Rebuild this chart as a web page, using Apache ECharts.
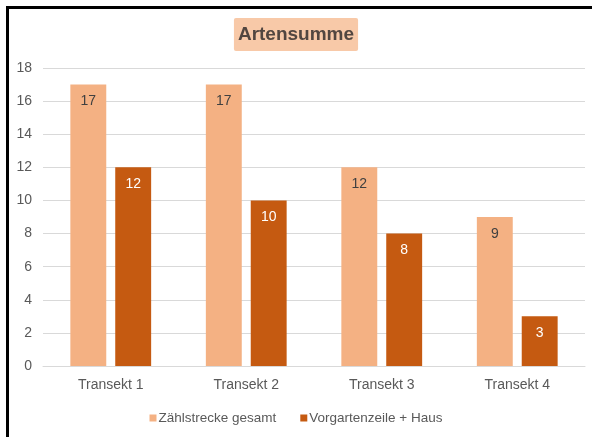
<!DOCTYPE html>
<html>
<head>
<meta charset="utf-8">
<script src="https://cdn.jsdelivr.net/npm/echarts@6/dist/echarts.min.js"></script>
<style>
  html, body { margin: 0; padding: 0; background: #fff; }
  #chart { position: absolute; left: 0; top: 0; width: 592px; height: 437px; }
  #frame { position: absolute; left: 6px; top: 6px; width: 600px; height: 440px;
           border-top: 3px solid #000; border-left: 3px solid #000; }
</style>
</head>
<body>
<div id="chart"></div>
<div id="frame"></div>
<script>
var categories = ["Transekt 1", "Transekt 2", "Transekt 3", "Transekt 4"];
var zaehlstrecke = [17, 17, 12, 9];
var vorgarten = [12, 10, 8, 3];
var yTicks = [0, 2, 4, 6, 8, 10, 12, 14, 16, 18];

var font = "'Liberation Sans Narrow', 'Liberation Sans', Arial, sans-serif";
var chart = echarts.init(document.getElementById("chart"));
chart.setOption({
  animation: false,
  textStyle: { fontFamily: font },
  title: {
    text: "Artensumme",
    left: "center",
    top: 18,
    backgroundColor: "#F8C9A8",
    padding: [7, 4, 7, 4],
    borderRadius: 2,
    textStyle: { fontFamily: font, fontSize: 19, fontWeight: "bold", color: "#524640" }
  },
  legend: {
    bottom: 7,
    left: "center",
    itemWidth: 7,
    itemHeight: 7,
    itemGap: 24,
    icon: "rect",
    textStyle: { fontFamily: font, fontSize: 13.5, color: "#595959", padding: [0, 0, 0, -3] },
    data: ["Zählstrecke gesamt", "Vorgartenzeile + Haus"]
  },
  grid: { left: 43, right: 7, top: 68, bottom: 71, containLabel: false },
  xAxis: {
    type: "category",
    data: categories,
    axisLine: { lineStyle: { color: "#D9D9D9" } },
    axisTick: { show: false },
    axisLabel: { fontFamily: font, fontSize: 14, color: "#595959", margin: 12 }
  },
  yAxis: {
    type: "value",
    min: yTicks[0],
    max: yTicks[yTicks.length - 1],
    interval: 2,
    axisLine: { show: false },
    axisTick: { show: false },
    axisLabel: { fontFamily: font, fontSize: 14, color: "#595959", margin: 11 },
    splitLine: { lineStyle: { color: "#D9D9D9" } }
  },
  series: [
    {
      name: "Zählstrecke gesamt",
      type: "bar",
      data: zaehlstrecke,
      barWidth: "26.5%",
      barGap: "25%",
      itemStyle: { color: "#F4B183" },
      label: { show: true, position: "insideTop", distance: 10, fontFamily: font, fontSize: 14, color: "#404040" }
    },
    {
      name: "Vorgartenzeile + Haus",
      type: "bar",
      data: vorgarten,
      barWidth: "26.5%",
      itemStyle: { color: "#C55A11" },
      label: { show: true, position: "insideTop", distance: 10, fontFamily: font, fontSize: 14, color: "#FFFFFF" }
    }
  ]
});
</script>
</body>
</html>
